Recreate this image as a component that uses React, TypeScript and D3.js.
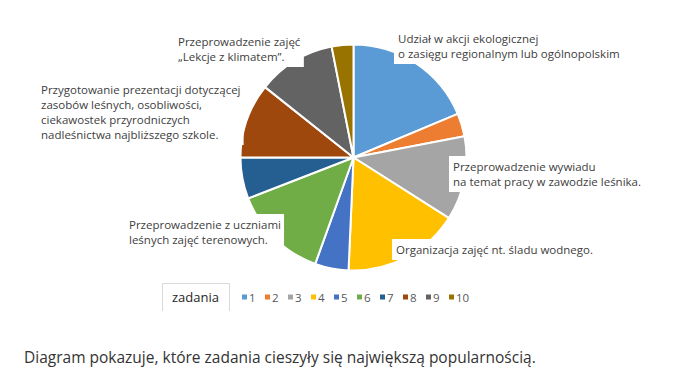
import React, { useEffect, useRef } from "react";
import * as d3 from "d3";

const categories = ["1", "2", "3", "4", "5", "6", "7", "8", "9", "10"];
const values = [18.7, 3.3, 12.0, 16.7, 4.8, 13.6, 5.9, 10.7, 11.2, 3.1];
const colors = ["#5B9BD5", "#ED7D31", "#A5A5A5", "#FFC000", "#4472C4", "#70AD47", "#255E91", "#9E480E", "#636363", "#997300"];
const sliceLabels = [
  ["Udział w akcji ekologicznej", "o zasięgu regionalnym lub ogólnopolskim"],
  ["Przeprowadzenie wywiadu", "na temat pracy w zawodzie leśnika."],
  ["Organizacja zajęć nt. śladu wodnego."],
  ["Przeprowadzenie z uczniami", "leśnych zajęć terenowych."],
  ["Przygotowanie prezentacji dotyczącej", "zasobów leśnych, osobliwości,", "ciekawostek przyrodniczych", "nadleśnictwa najbliższego szkole."],
  ["Przeprowadzenie zajęć", "„Lekcje z klimatem”."],
];
const legendTitle = "zadania";
const caption = "Diagram pokazuje, które zadania cieszyły się największą popularnością.";

// layout for labels (left x of text block, first baseline)
const labelLayout = [
  { x: 398, y: 43 },
  { x: 453, y: 171 },
  { x: 396, y: 254 },
  { x: 129, y: 229 },
  { x: 41, y: 94 },
  { x: 178, y: 46 },
];

const FONT = "'Open Sans', sans-serif";

export default function App() {
  const ref = useRef<SVGSVGElement>(null);
  useEffect(() => {
    const svg = d3.select(ref.current);
    svg.selectAll("*").remove();
    const cx = 353.5, cy = 157.5, r = 113;

    const pie = d3.pie<number>().sort(null).value((d) => d)(values);
    const arc = d3.arc<d3.PieArcDatum<number>>().innerRadius(0).outerRadius(r);
    const g = svg.append("g").attr("transform", `translate(${cx},${cy})`);
    g.selectAll("path").data(pie).join("path")
      .attr("d", arc as any)
      .attr("fill", (_, i) => colors[i])
      .attr("stroke", "#fff")
      .attr("stroke-width", 2)
      .attr("stroke-linejoin", "round");

    const lh = 15;
    const lg = svg.append("g");
    sliceLabels.forEach((lines, k) => {
      const L = labelLayout[k];
      const grp = lg.append("g");
      const rect = grp.append("rect").attr("fill", "#fff");
      const t = grp.append("text")
        .attr("font-family", FONT).attr("font-size", 11.5).attr("fill", "#404040");
      lines.forEach((s, j) => {
        t.append("tspan").attr("x", L.x).attr("y", L.y + j * lh).text(s);
      });
      const bb = (t.node() as SVGTextElement).getBBox();
      rect.attr("x", bb.x - 4).attr("y", bb.y - 3).attr("width", bb.width + 7).attr("height", bb.height + 6);
    });

    // legend box
    svg.append("path").attr("d", "M162.5,311 V283.5 H229.5 V311")
      .attr("fill", "none").attr("stroke", "#D9D9D9").attr("stroke-width", 1);
    svg.append("text").attr("x", 195.5).attr("y", 302).attr("text-anchor", "middle")
      .attr("font-family", FONT).attr("font-size", 13).attr("fill", "#262626").text(legendTitle);

    const lx = d3.scalePoint<string>().domain(categories).range([242, 449]);
    const items = svg.append("g").selectAll("g").data(categories).join("g")
      .attr("transform", (d) => `translate(${lx(d)},297)`);
    items.append("rect").attr("x", 0).attr("y", -2.5).attr("width", 5).attr("height", 5)
      .attr("fill", (_, i) => colors[i]);
    items.append("text").attr("x", 7).attr("y", 4.5)
      .attr("font-family", FONT).attr("font-size", 11.5).attr("fill", "#595959").text((d) => d);

    svg.append("text").attr("x", 24).attr("y", 363)
      .attr("font-family", FONT).attr("font-size", 15.5).attr("fill", "#333").text(caption);
  }, []);
  return (
    <svg ref={ref} width={674} height={376} style={{ position: "absolute", left: 0, top: 0, background: "#fff" }} />
  );
}
